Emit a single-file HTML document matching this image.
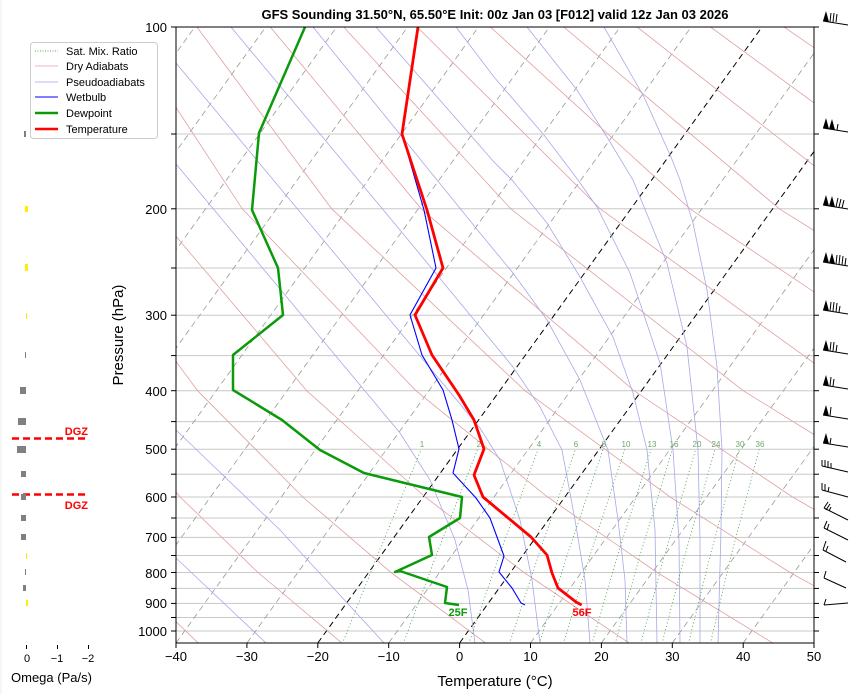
<!DOCTYPE html>
<html><head><meta charset="utf-8"><style>
body{margin:0;background:#fff;}
svg{display:block;font-family:"Liberation Sans","DejaVu Sans",sans-serif;}
</style></head><body>
<svg width="854" height="694" xmlns="http://www.w3.org/2000/svg">
<defs><clipPath id="c"><rect x="176" y="27" width="638" height="616"/></clipPath></defs>
<rect width="854" height="694" fill="#fff"/>
<g clip-path="url(#c)">
<!-- pressure grid -->
<g stroke="#c8c8c8" stroke-width="1">
<line x1="176" x2="814" y1="134" y2="134"/><line x1="176" x2="814" y1="208.8" y2="208.8"/>
<line x1="176" x2="814" y1="268" y2="268"/><line x1="176" x2="814" y1="315.2" y2="315.2"/>
<line x1="176" x2="814" y1="355.6" y2="355.6"/><line x1="176" x2="814" y1="390.7" y2="390.7"/>
<line x1="176" x2="814" y1="421.6" y2="421.6"/><line x1="176" x2="814" y1="449.2" y2="449.2"/>
<line x1="176" x2="814" y1="474.2" y2="474.2"/><line x1="176" x2="814" y1="497" y2="497"/>
<line x1="176" x2="814" y1="518" y2="518"/><line x1="176" x2="814" y1="537.4" y2="537.4"/>
<line x1="176" x2="814" y1="555.5" y2="555.5"/><line x1="176" x2="814" y1="572.5" y2="572.5"/>
<line x1="176" x2="814" y1="588.4" y2="588.4"/><line x1="176" x2="814" y1="603.4" y2="603.4"/>
<line x1="176" x2="814" y1="617.5" y2="617.5"/><line x1="176" x2="814" y1="631" y2="631"/>
</g>
<!-- isotherms -->
<g stroke="#999" stroke-width="0.8" stroke-dasharray="6,4">
<line x1="-249.3" y1="643" x2="194.9" y2="27"/><line x1="-178.4" y1="643" x2="265.8" y2="27"/>
<line x1="-107.5" y1="643" x2="336.7" y2="27"/><line x1="-36.6" y1="643" x2="407.6" y2="27"/>
<line x1="34.3" y1="643" x2="478.5" y2="27"/><line x1="105.2" y1="643" x2="549.4" y2="27"/>
<line x1="176" y1="643" x2="620.2" y2="27"/><line x1="247" y1="643" x2="691.2" y2="27"/>
<line x1="388.7" y1="643" x2="832.9" y2="27"/>
<line x1="530.5" y1="643" x2="974.7" y2="27"/><line x1="601.4" y1="643" x2="1045.6" y2="27"/>
<line x1="672.3" y1="643" x2="1116.5" y2="27"/><line x1="743.2" y1="643" x2="1187.4" y2="27"/>
</g>
<g stroke="#000" stroke-width="1" stroke-dasharray="6,4">
<line x1="317.8" y1="643" x2="762" y2="27"/><line x1="459.6" y1="643" x2="903.8" y2="27"/>
</g>
<!-- dry adiabats -->
<g fill="none" stroke="#e0a0a0" stroke-width="0.8">
<polyline points="199,643.8 125,572.5 57.7,497 -20.6,390.7"/>
<polyline points="342.8,643.8 258,572.5 180.2,497 88.5,390.7 -26.4,208.8"/>
<polyline points="486.6,643.8 391,572.5 302.7,497 197.6,390.7 63.1,208.8 -23.2,27"/>
<polyline points="630.3,643.8 524,572.5 425.2,497 306.7,390.7 152.6,208.8 50.2,27"/>
<polyline points="774.1,643.8 657.1,572.5 547.6,497 415.9,390.7 242.2,208.8 123.5,27"/>
<polyline points="917.8,643.8 790.1,572.5 670.1,497 525,390.7 331.7,208.8 196.9,27"/>
<polyline points="923.1,572.5 792.6,497 634.1,390.7 421.2,208.8 270.3,27"/>
<polyline points="1056,572.5 915.1,497 743.2,390.7 510.7,208.8 343.7,27"/>
<polyline points="1037.6,497 852.4,390.7 600.2,208.8 417.1,27"/>
<polyline points="961.5,390.7 689.8,208.8 490.4,27"/>
<polyline points="1070.6,390.7 779.3,208.8 563.8,27"/>
<polyline points="868.8,208.8 637.2,27"/>
<polyline points="958.3,208.8 710.6,27"/>
<polyline points="1047.8,208.8 784,27"/>
</g>
<!-- pseudoadiabats -->
<g fill="none" stroke="#a8a8e8" stroke-width="0.8">
<polyline points="176,558 266,643"/>
<polyline points="176,430 280,530 384,643"/>
<polyline points="120,95 176,164 300,313 400,433 430,480 455,540 468,590 475,643"/>
<polyline points="146,27 176,63 300,212 400,332 480,428 500,460 520,520 532,580 540,643"/>
<polyline points="231,27 400,230 480,327 513,367 540,407 562,450 575,520 585,580 590,643"/>
<polyline points="313,27 480,233 513,273 547,320 580,380 608,450 618,520 625,580 627,643"/>
<polyline points="376,27 494,162 512,180 547,223 580,277 613,337 633,393 647,450 655,530 657,643"/>
<polyline points="456,27 494,77 544,135 578,180 597,207 630,273 660,363 673,450 679,540 680,643"/>
<polyline points="527,27 577,90 607,137 633,180 667,263 687,347 698,450 700,540 700,643"/>
<polyline points="604,27 644,97 671,157 680,180 693,223 707,290 717,367 722,450 721,530 718,643"/>
</g>
<!-- mixing ratio -->
<g fill="none" stroke="#3a9a3a" stroke-width="0.8" stroke-dasharray="1,2.5">
<polyline points="342.3,643.8 377.4,555.5 421.3,449.2"/>
<polyline points="403.2,643.8 436.1,555.5 477.6,449.2"/>
<polyline points="468.7,643.8 499.2,555.5 538.1,449.2"/>
<polyline points="509.4,643.8 538.4,555.5 575.5,449.2"/>
<polyline points="539.3,643.8 567.1,555.5 603,449.2"/>
<polyline points="563.2,643.8 590,555.5 624.8,449.2"/>
<polyline points="591.9,643.8 617.6,555.5 651.1,449.2"/>
<polyline points="615.1,643.8 639.9,555.5 672.4,449.2"/>
<polyline points="640.7,643.8 664.5,555.5 695.7,449.2"/>
<polyline points="661.9,643.8 684.8,555.5 715.1,449.2"/>
<polyline points="688.4,643.8 710.2,555.5 739.2,449.2"/>
<polyline points="710.3,643.8 731.1,555.5 759.2,449.2"/>
</g>
<g font-size="8" fill="#6aa86a" text-anchor="middle">
<text x="422" y="447">1</text><text x="479" y="447">2</text><text x="539" y="447">4</text><text x="576" y="447">6</text>
<text x="604" y="447">8</text><text x="626" y="447">10</text><text x="652" y="447">13</text><text x="674" y="447">16</text>
<text x="697" y="447">20</text><text x="716" y="447">24</text><text x="740" y="447">30</text><text x="760" y="447">36</text>
</g>
<!-- profiles -->
<polyline fill="none" stroke="#0a9a0a" stroke-width="2.5" stroke-linejoin="round" points="459,605 445,603 447,587 400,571 395,572 432,555 429,537 460,518 462,497 364,473 320,450 282,420 233,390 233,355 283,315 278,268 252,210 259,133 305,27"/>
<polyline fill="none" stroke="#0000ff" stroke-width="1.1" points="525,605 521,603 512,588 499,572 504,556 497,537 490,518 476,498 453,473 459,449 452,420 443,390 422,355 410,315 436,268 424,210 402,134 418,27"/>
<polyline fill="none" stroke="#ff0000" stroke-width="2.8" stroke-linejoin="round" points="581.7,605 576,602 558,588 552,573 547,555 531,537 483,497 474,475 484,449 474,420 459,395 432,355 415,315 443,268 427,210 402,134 418,27"/>
</g>
<rect x="176" y="27" width="638" height="616" fill="none" stroke="#000" stroke-width="1"/>
<!-- ticks -->
<g stroke="#000">
<line x1="176" x2="176" y1="643" y2="648"/><line x1="246.9" x2="246.9" y1="643" y2="648"/><line x1="317.8" x2="317.8" y1="643" y2="648"/><line x1="388.7" x2="388.7" y1="643" y2="648"/><line x1="459.6" x2="459.6" y1="643" y2="648"/><line x1="530.5" x2="530.5" y1="643" y2="648"/><line x1="601.4" x2="601.4" y1="643" y2="648"/><line x1="672.3" x2="672.3" y1="643" y2="648"/><line x1="743.2" x2="743.2" y1="643" y2="648"/><line x1="814" x2="814" y1="643" y2="648"/>
<line x1="171" x2="176" y1="27" y2="27"/><line x1="171" x2="176" y1="134" y2="134"/><line x1="171" x2="176" y1="208.8" y2="208.8"/><line x1="171" x2="176" y1="268" y2="268"/><line x1="171" x2="176" y1="315.2" y2="315.2"/><line x1="171" x2="176" y1="355.6" y2="355.6"/><line x1="171" x2="176" y1="390.7" y2="390.7"/><line x1="171" x2="176" y1="421.6" y2="421.6"/><line x1="171" x2="176" y1="449.2" y2="449.2"/><line x1="171" x2="176" y1="474.2" y2="474.2"/><line x1="171" x2="176" y1="497" y2="497"/><line x1="171" x2="176" y1="518" y2="518"/><line x1="171" x2="176" y1="537.4" y2="537.4"/><line x1="171" x2="176" y1="555.5" y2="555.5"/><line x1="171" x2="176" y1="572.5" y2="572.5"/><line x1="171" x2="176" y1="588.4" y2="588.4"/><line x1="171" x2="176" y1="603.4" y2="603.4"/><line x1="171" x2="176" y1="617.5" y2="617.5"/><line x1="171" x2="176" y1="631" y2="631"/>
<line x1="814" x2="819" y1="27" y2="27"/><line x1="814" x2="819" y1="134" y2="134"/><line x1="814" x2="819" y1="208.8" y2="208.8"/><line x1="814" x2="819" y1="268" y2="268"/><line x1="814" x2="819" y1="315.2" y2="315.2"/><line x1="814" x2="819" y1="355.6" y2="355.6"/><line x1="814" x2="819" y1="390.7" y2="390.7"/><line x1="814" x2="819" y1="421.6" y2="421.6"/><line x1="814" x2="819" y1="449.2" y2="449.2"/><line x1="814" x2="819" y1="474.2" y2="474.2"/><line x1="814" x2="819" y1="497" y2="497"/><line x1="814" x2="819" y1="518" y2="518"/><line x1="814" x2="819" y1="537.4" y2="537.4"/><line x1="814" x2="819" y1="555.5" y2="555.5"/><line x1="814" x2="819" y1="572.5" y2="572.5"/><line x1="814" x2="819" y1="588.4" y2="588.4"/><line x1="814" x2="819" y1="603.4" y2="603.4"/><line x1="814" x2="819" y1="617.5" y2="617.5"/><line x1="814" x2="819" y1="631" y2="631"/>
</g>
<g font-size="13" text-anchor="middle">
<text x="176" y="661">−40</text><text x="246.9" y="661">−30</text><text x="317.8" y="661">−20</text><text x="388.7" y="661">−10</text><text x="459.6" y="661">0</text><text x="530.5" y="661">10</text><text x="601.4" y="661">20</text><text x="672.3" y="661">30</text><text x="743.2" y="661">40</text><text x="814" y="661">50</text>
</g>
<g font-size="13" text-anchor="end">
<text x="167" y="32">100</text><text x="167" y="214">200</text><text x="167" y="320">300</text><text x="167" y="396">400</text><text x="167" y="454">500</text><text x="167" y="502">600</text><text x="167" y="542">700</text><text x="167" y="578">800</text><text x="167" y="608">900</text><text x="167" y="636">1000</text>
</g>
<text x="495" y="19" text-anchor="middle" font-size="13" font-weight="bold">GFS Sounding 31.50°N, 65.50°E Init: 00z Jan 03 [F012] valid 12z Jan 03 2026</text>
<text x="458" y="616" text-anchor="middle" font-size="11" font-weight="bold" fill="#0a9a0a">25F</text>
<text x="582" y="616" text-anchor="middle" font-size="11" font-weight="bold" fill="#ff0000">56F</text>
<text x="495" y="686" text-anchor="middle" font-size="15">Temperature (°C)</text>
<text transform="translate(123,335) rotate(-90)" text-anchor="middle" font-size="15">Pressure (hPa)</text>
<!-- legend -->
<rect x="30.5" y="42.5" width="127" height="96" rx="3" fill="#fff" stroke="#ccc"/>
<line x1="35" y1="51" x2="58" y2="51" stroke="#2a8a2a" stroke-dasharray="1,1.5" stroke-width="0.8"/>
<line x1="35" y1="66" x2="58" y2="66" stroke="#e8a0a0" stroke-width="0.8"/>
<line x1="35" y1="82" x2="58" y2="82" stroke="#a0a0e8" stroke-width="0.8"/>
<line x1="35" y1="97" x2="58" y2="97" stroke="#0000ff" stroke-width="1"/>
<line x1="35" y1="113" x2="58" y2="113" stroke="#0a9a0a" stroke-width="2.5"/>
<line x1="35" y1="129" x2="58" y2="129" stroke="#ff0000" stroke-width="2.5"/>
<g font-size="11"><text x="66" y="55">Sat. Mix. Ratio</text><text x="66" y="70">Dry Adiabats</text><text x="66" y="86">Pseudoadiabats</text><text x="66" y="101">Wetbulb</text><text x="66" y="117">Dewpoint</text><text x="66" y="133">Temperature</text></g>
<!-- omega panel -->
<line x1="1" y1="0" x2="1" y2="694" stroke="#eee"/>
<line x1="12" y1="438.5" x2="87" y2="438.5" stroke="#f00" stroke-width="2.5" stroke-dasharray="7,4"/>
<line x1="12" y1="494.5" x2="87" y2="494.5" stroke="#f00" stroke-width="2.5" stroke-dasharray="7,4"/>
<text x="88" y="435" text-anchor="end" font-size="11" font-weight="bold" fill="#f00">DGZ</text>
<text x="88" y="509" text-anchor="end" font-size="11" font-weight="bold" fill="#f00">DGZ</text>
<g fill="#808080">
<rect x="24" y="131" width="2" height="6"/><rect x="25" y="352" width="1" height="6"/>
<rect x="20" y="387" width="6" height="7"/><rect x="18" y="418" width="8" height="7"/>
<rect x="17" y="446" width="9" height="7"/><rect x="21" y="471" width="5" height="6"/>
<rect x="21" y="494" width="5" height="6"/><rect x="21" y="515" width="5" height="6"/>
<rect x="21" y="534" width="5" height="6"/><rect x="25" y="569" width="1" height="6"/>
<rect x="23" y="585" width="3" height="6"/>
</g>
<g fill="#ffee00">
<rect x="25" y="206" width="3" height="6"/><rect x="25" y="264" width="3" height="7"/>
<rect x="26" y="313" width="1" height="6"/><rect x="26" y="553" width="1" height="6"/>
<rect x="26" y="600" width="2" height="6"/>
</g>
<g stroke="#000"><line x1="26.5" y1="645" x2="26.5" y2="649"/><line x1="57.5" y1="645" x2="57.5" y2="649"/><line x1="88.5" y1="645" x2="88.5" y2="649"/></g>
<g font-size="11" text-anchor="middle"><text x="27" y="662">0</text><text x="57" y="662">−1</text><text x="88" y="662">−2</text></g>
<text x="11" y="682" font-size="13">Omega (Pa/s)</text>
<!-- wind barbs -->
<g stroke="#000" stroke-width="1" fill="#000">
<g><line x1="823" y1="21" x2="848" y2="25"/><polygon stroke="none" points="823,21 829,22 826,11"/><line x1="830" y1="22" x2="831" y2="13"/><line x1="833" y1="22" x2="834" y2="13"/><line x1="836" y1="22" x2="837" y2="14"/></g>
<g><line x1="823" y1="128" x2="848" y2="132"/><polygon stroke="none" points="823,128 829,129 826,118"/><polygon stroke="none" points="829,129 835,130 832,119"/><line x1="837" y1="130" x2="838" y2="124"/></g>
<g><line x1="823" y1="205" x2="848" y2="209"/><polygon stroke="none" points="823,205 829,206 826,195"/><polygon stroke="none" points="829,206 835,207 832,196"/><line x1="836" y1="207" x2="838" y2="198"/><line x1="839" y1="207" x2="841" y2="199"/><line x1="842" y1="208" x2="844" y2="200"/></g>
<g><line x1="823" y1="262" x2="848" y2="266"/><polygon stroke="none" points="823,262 829,263 826,252"/><polygon stroke="none" points="829,263 835,264 832,253"/><line x1="836" y1="264" x2="837" y2="255"/><line x1="839" y1="264" x2="840" y2="255"/><line x1="842" y1="265" x2="843" y2="256"/><line x1="845" y1="265" x2="846" y2="258"/></g>
<g><line x1="823" y1="310" x2="848" y2="314"/><polygon stroke="none" points="823,310 829,311 826,300"/><line x1="830" y1="311" x2="831" y2="302"/><line x1="833" y1="311" x2="834" y2="302"/><line x1="836" y1="312" x2="837" y2="303"/><line x1="839" y1="312" x2="840" y2="306"/></g>
<g><line x1="823" y1="350" x2="848" y2="354"/><polygon stroke="none" points="823,350 829,351 826,340"/><line x1="830" y1="351" x2="831" y2="342"/><line x1="833" y1="351" x2="834" y2="342"/><line x1="836" y1="352" x2="837" y2="345"/></g>
<g><line x1="823" y1="385" x2="848" y2="389"/><polygon stroke="none" points="823,385 829,386 826,375"/><line x1="830" y1="386" x2="831" y2="377"/><line x1="833" y1="386" x2="834" y2="379"/></g>
<g><line x1="823" y1="415" x2="848" y2="419"/><polygon stroke="none" points="823,415 829,416 826,405"/><line x1="830" y1="416" x2="831" y2="407"/></g>
<g><line x1="823" y1="443" x2="848" y2="447"/><polygon stroke="none" points="823,443 829,444 826,433"/><line x1="830" y1="444" x2="831" y2="438"/></g>
<g><line x1="822" y1="466" x2="848" y2="472"/><line x1="822" y1="466" x2="822" y2="460"/><line x1="825" y1="467" x2="825" y2="460"/><line x1="828" y1="468" x2="828" y2="461"/><line x1="831" y1="468" x2="831" y2="463"/></g>
<g><line x1="822" y1="490" x2="848" y2="497"/><line x1="822" y1="490" x2="822" y2="483"/><line x1="825" y1="491" x2="825" y2="484"/><line x1="828" y1="492" x2="829" y2="487"/></g>
<g><line x1="824" y1="508" x2="848" y2="520"/><line x1="824" y1="508" x2="828" y2="502"/><line x1="826" y1="510" x2="830" y2="504"/><line x1="829" y1="511" x2="831" y2="507"/></g>
<g><line x1="824" y1="528" x2="848" y2="540"/><line x1="824" y1="528" x2="827" y2="521"/><line x1="827" y1="530" x2="829" y2="524"/></g>
<g><line x1="823" y1="550" x2="846" y2="562"/><line x1="823" y1="550" x2="826" y2="541"/><line x1="826" y1="551" x2="828" y2="546"/></g>
<g><line x1="824" y1="578" x2="846" y2="588"/><line x1="824" y1="578" x2="826" y2="571"/></g>
<g><line x1="824" y1="605" x2="848" y2="603"/><line x1="824" y1="605" x2="826" y2="599"/></g>
</g>
</svg>
</body></html>
